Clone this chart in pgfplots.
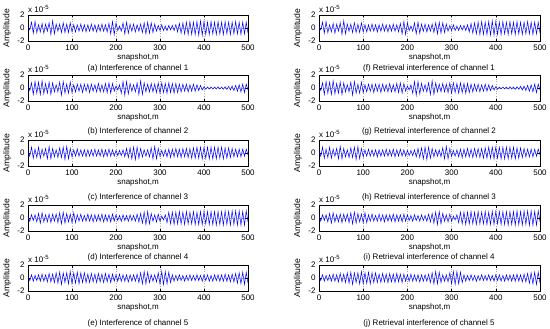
\documentclass[border=0pt]{standalone}
\usepackage{fontspec}
\setmainfont{Liberation Sans}
\usepackage{pgfplots}
\pgfplotsset{compat=1.18}
\usepackage{pgfplotstable}

\pgfplotstableread[row sep=\\]{x y\\
0 0.2\\ 4 -0.3\\ 8 0.9\\ 12 -0.8\\ 16 1.0\\ 20 -0.7\\ 24 0.5\\ 28 -0.6\\ 32 0.7\\ 36 -0.8\\
40 0.6\\ 44 -0.5\\ 48 0.8\\ 52 -1.0\\ 56 1.1\\ 60 -0.9\\ 64 0.6\\ 68 -0.5\\ 72 0.6\\ 76 -0.7\\
80 0.8\\ 84 -0.7\\ 88 0.6\\ 92 -0.7\\ 96 0.8\\ 100 -0.6\\ 104 0.5\\ 108 -0.6\\ 112 0.5\\ 116 -0.5\\
120 0.6\\ 124 -0.5\\ 128 0.5\\ 132 -0.6\\ 136 0.5\\ 140 -0.5\\ 144 0.6\\ 148 -0.5\\ 152 0.5\\ 156 -0.6\\
160 0.5\\ 164 -0.5\\ 168 0.6\\ 172 -0.5\\ 176 0.5\\ 180 -0.6\\ 184 0.7\\ 188 -0.9\\ 192 1.0\\ 196 -1.0\\
200 0.8\\ 204 -0.4\\ 208 0.3\\ 212 -0.5\\ 216 0.8\\ 220 -0.9\\ 224 0.9\\ 228 -0.8\\ 232 0.6\\ 236 -0.5\\
240 0.6\\ 244 -0.6\\ 248 0.5\\ 252 -0.5\\ 256 0.6\\ 260 -0.7\\ 264 0.8\\ 268 -0.9\\ 272 0.9\\ 276 -0.8\\
280 0.8\\ 284 -0.7\\ 288 0.6\\ 292 -0.5\\ 296 0.4\\ 300 -0.4\\ 304 0.5\\ 308 -0.4\\ 312 0.3\\ 316 -0.4\\
320 0.4\\ 324 -0.3\\ 328 0.4\\ 332 -0.4\\ 336 0.5\\ 340 -0.6\\ 344 0.7\\ 348 -0.8\\ 352 0.8\\ 356 -0.9\\
360 0.9\\ 364 -1.0\\ 368 1.0\\ 372 -1.0\\ 376 0.9\\ 380 -1.0\\ 384 1.0\\ 388 -1.1\\ 392 1.1\\ 396 -1.1\\
400 1.0\\ 404 -1.0\\ 408 0.9\\ 412 -1.0\\ 416 1.0\\ 420 -0.9\\ 424 0.9\\ 428 -1.0\\ 432 1.0\\ 436 -0.9\\
440 0.9\\ 444 -1.0\\ 448 1.0\\ 452 -0.9\\ 456 0.9\\ 460 -1.0\\ 464 0.9\\ 468 -0.9\\ 472 1.0\\ 476 -0.9\\
480 0.9\\ 484 -1.0\\ 488 0.9\\ 492 -0.9\\ 496 0.9\\ 500 -0.8\\
}\chA

\pgfplotstableread[row sep=\\]{x y\\
0 0.3\\ 4 -0.4\\ 8 0.8\\ 12 -1.0\\ 16 1.0\\ 20 -0.8\\ 24 0.9\\ 28 -1.0\\ 32 1.1\\ 36 -0.9\\
40 0.7\\ 44 -0.8\\ 48 0.9\\ 52 -1.0\\ 56 0.8\\ 60 -0.6\\ 64 0.5\\ 68 -0.6\\ 72 0.9\\ 76 -1.1\\
80 1.0\\ 84 -0.8\\ 88 0.6\\ 92 -0.8\\ 96 0.9\\ 100 -0.7\\ 104 0.5\\ 108 -0.6\\ 112 0.6\\ 116 -0.5\\
120 0.6\\ 124 -0.7\\ 128 0.6\\ 132 -0.5\\ 136 0.6\\ 140 -0.7\\ 144 0.6\\ 148 -0.5\\ 152 0.5\\ 156 -0.6\\
160 0.7\\ 164 -0.6\\ 168 0.5\\ 172 -0.6\\ 176 0.7\\ 180 -0.7\\ 184 0.8\\ 188 -0.8\\ 192 0.7\\ 196 -0.5\\
200 0.3\\ 204 -0.3\\ 208 0.5\\ 212 -0.8\\ 216 1.0\\ 220 -1.1\\ 224 1.0\\ 228 -0.9\\ 232 0.7\\ 236 -0.5\\
240 0.5\\ 244 -0.6\\ 248 0.8\\ 252 -1.0\\ 256 1.1\\ 260 -1.0\\ 264 0.8\\ 268 -0.6\\ 272 0.6\\ 276 -0.6\\
280 0.7\\ 284 -0.6\\ 288 0.6\\ 292 -0.7\\ 296 0.8\\ 300 -0.8\\ 304 0.8\\ 308 -0.7\\ 312 0.7\\ 316 -0.8\\
320 0.8\\ 324 -0.7\\ 328 0.7\\ 332 -0.8\\ 336 0.7\\ 340 -0.7\\ 344 0.6\\ 348 -0.6\\ 352 0.6\\ 356 -0.5\\
360 0.6\\ 364 -0.6\\ 368 0.5\\ 372 -0.5\\ 376 0.6\\ 380 -0.5\\ 384 0.5\\ 388 -0.4\\ 392 0.4\\ 396 -0.3\\
400 0.2\\ 404 -0.2\\ 408 0.15\\ 412 -0.15\\ 416 0.15\\ 420 -0.15\\ 424 0.15\\ 428 -0.15\\ 432 0.2\\ 436 -0.15\\
440 0.15\\ 444 -0.2\\ 448 0.2\\ 452 -0.2\\ 456 0.25\\ 460 -0.3\\ 464 0.3\\ 468 -0.4\\ 472 0.4\\ 476 -0.5\\
480 0.5\\ 484 -0.6\\ 488 0.6\\ 492 -0.7\\ 496 0.6\\ 500 -0.3\\
}\chB

\pgfplotstableread[row sep=\\]{x y\\
0 0.2\\ 4 -0.5\\ 8 0.9\\ 12 -0.8\\ 16 0.6\\ 20 -0.7\\ 24 0.9\\ 28 -0.8\\ 32 0.6\\ 36 -0.5\\
40 0.7\\ 44 -0.9\\ 48 1.0\\ 52 -0.9\\ 56 0.7\\ 60 -0.6\\ 64 0.5\\ 68 -0.7\\ 72 0.8\\ 76 -0.7\\
80 0.9\\ 84 -1.0\\ 88 1.0\\ 92 -0.9\\ 96 0.7\\ 100 -0.6\\ 104 0.5\\ 108 -0.5\\ 112 0.6\\ 116 -0.5\\
120 0.5\\ 124 -0.5\\ 128 0.5\\ 132 -0.6\\ 136 0.5\\ 140 -0.5\\ 144 0.5\\ 148 -0.5\\ 152 0.6\\ 156 -0.5\\
160 0.5\\ 164 -0.5\\ 168 0.6\\ 172 -0.6\\ 176 0.5\\ 180 -0.5\\ 184 0.6\\ 188 -0.5\\ 192 0.5\\ 196 -0.5\\
200 0.4\\ 204 -0.4\\ 208 0.4\\ 212 -0.4\\ 216 0.5\\ 220 -0.6\\ 224 0.7\\ 228 -0.7\\ 232 0.8\\ 236 -0.9\\
240 0.9\\ 244 -1.0\\ 248 0.9\\ 252 -0.8\\ 256 0.7\\ 260 -0.6\\ 264 0.5\\ 268 -0.5\\ 272 0.5\\ 276 -0.6\\
280 0.8\\ 284 -0.9\\ 288 1.0\\ 292 -0.9\\ 296 0.7\\ 300 -0.5\\ 304 0.4\\ 308 -0.5\\ 312 0.5\\ 316 -0.6\\
320 0.6\\ 324 -0.7\\ 328 0.6\\ 332 -0.6\\ 336 0.7\\ 340 -0.6\\ 344 0.6\\ 348 -0.7\\ 352 0.7\\ 356 -0.6\\
360 0.7\\ 364 -0.7\\ 368 0.7\\ 372 -0.8\\ 376 0.8\\ 380 -0.8\\ 384 0.9\\ 388 -0.8\\ 392 0.9\\ 396 -0.9\\
400 0.9\\ 404 -0.8\\ 408 0.9\\ 412 -0.9\\ 416 0.9\\ 420 -0.9\\ 424 0.9\\ 428 -0.9\\ 432 0.9\\ 436 -0.8\\
440 0.9\\ 444 -0.9\\ 448 0.8\\ 452 -0.8\\ 456 0.8\\ 460 -0.7\\ 464 0.7\\ 468 -0.6\\ 472 0.6\\ 476 -0.6\\
480 0.6\\ 484 -0.6\\ 488 0.6\\ 492 -0.5\\ 496 0.6\\ 500 -0.3\\
}\chC

\pgfplotstableread[row sep=\\]{x y\\
0 0.3\\ 4 -0.5\\ 8 0.5\\ 12 -0.4\\ 16 0.5\\ 20 -0.6\\ 24 0.7\\ 28 -0.8\\ 32 0.8\\ 36 -0.6\\
40 0.5\\ 44 -0.6\\ 48 0.6\\ 52 -0.7\\ 56 0.6\\ 60 -0.5\\ 64 0.6\\ 68 -0.7\\ 72 0.8\\ 76 -0.9\\
80 0.9\\ 84 -0.8\\ 88 0.7\\ 92 -0.6\\ 96 0.6\\ 100 -0.7\\ 104 0.8\\ 108 -0.7\\ 112 0.5\\ 116 -0.5\\
120 0.6\\ 124 -0.5\\ 128 0.4\\ 132 -0.5\\ 136 0.6\\ 140 -0.5\\ 144 0.5\\ 148 -0.6\\ 152 0.5\\ 156 -0.5\\
160 0.5\\ 164 -0.5\\ 168 0.6\\ 172 -0.6\\ 176 0.5\\ 180 -0.5\\ 184 0.5\\ 188 -0.6\\ 192 0.6\\ 196 -0.5\\
200 0.5\\ 204 -0.4\\ 208 0.4\\ 212 -0.5\\ 216 0.5\\ 220 -0.4\\ 224 0.4\\ 228 -0.5\\ 232 0.5\\ 236 -0.4\\
240 0.4\\ 244 -0.5\\ 248 0.6\\ 252 -0.6\\ 256 0.7\\ 260 -0.8\\ 264 0.9\\ 268 -1.0\\ 272 1.0\\ 276 -0.9\\
280 0.7\\ 284 -0.5\\ 288 0.5\\ 292 -0.6\\ 296 0.6\\ 300 -0.5\\ 304 0.3\\ 308 -0.3\\ 312 0.5\\ 316 -0.7\\
320 0.9\\ 324 -0.9\\ 328 0.9\\ 332 -1.0\\ 336 0.9\\ 340 -0.9\\ 344 1.0\\ 348 -0.9\\ 352 0.9\\ 356 -1.0\\
360 1.0\\ 364 -0.9\\ 368 0.9\\ 372 -0.9\\ 376 1.0\\ 380 -1.0\\ 384 0.9\\ 388 -1.0\\ 392 1.0\\ 396 -1.0\\
400 1.0\\ 404 -0.9\\ 408 1.0\\ 412 -1.0\\ 416 1.0\\ 420 -1.0\\ 424 1.0\\ 428 -1.1\\ 432 1.0\\ 436 -1.0\\
440 1.0\\ 444 -1.1\\ 448 1.1\\ 452 -1.0\\ 456 1.0\\ 460 -1.1\\ 464 1.1\\ 468 -1.0\\ 472 1.1\\ 476 -1.1\\
480 1.1\\ 484 -1.1\\ 488 1.0\\ 492 -1.1\\ 496 1.1\\ 500 -0.6\\
}\chD

\pgfplotstableread[row sep=\\]{x y\\
0 0.2\\ 4 -0.4\\ 8 0.5\\ 12 -0.5\\ 16 0.4\\ 20 -0.4\\ 24 0.5\\ 28 -0.5\\ 32 0.6\\ 36 -0.5\\
40 0.5\\ 44 -0.6\\ 48 0.7\\ 52 -0.6\\ 56 0.6\\ 60 -0.7\\ 64 0.8\\ 68 -0.8\\ 72 0.9\\ 76 -1.0\\
80 0.8\\ 84 -0.7\\ 88 0.8\\ 92 -0.9\\ 96 1.0\\ 100 -0.9\\ 104 0.8\\ 108 -0.8\\ 112 0.9\\ 116 -0.9\\
120 0.8\\ 124 -0.7\\ 128 0.8\\ 132 -0.7\\ 136 0.6\\ 140 -0.7\\ 144 0.7\\ 148 -0.6\\ 152 0.6\\ 156 -0.7\\
160 0.7\\ 164 -0.6\\ 168 0.6\\ 172 -0.7\\ 176 0.7\\ 180 -0.6\\ 184 0.6\\ 188 -0.7\\ 192 0.6\\ 196 -0.5\\
200 0.5\\ 204 -0.5\\ 208 0.6\\ 212 -0.5\\ 216 0.5\\ 220 -0.5\\ 224 0.5\\ 228 -0.6\\ 232 0.5\\ 236 -0.5\\
240 0.5\\ 244 -0.5\\ 248 0.6\\ 252 -0.7\\ 256 0.8\\ 260 -0.9\\ 264 1.0\\ 268 -0.9\\ 272 0.9\\ 276 -0.7\\
280 0.5\\ 284 -0.5\\ 288 0.5\\ 292 -0.6\\ 296 0.8\\ 300 -0.9\\ 304 1.0\\ 308 -1.0\\ 312 1.0\\ 316 -0.9\\
320 0.9\\ 324 -0.7\\ 328 0.5\\ 332 -0.5\\ 336 0.4\\ 340 -0.4\\ 344 0.5\\ 348 -0.4\\ 352 0.4\\ 356 -0.5\\
360 0.4\\ 364 -0.4\\ 368 0.5\\ 372 -0.4\\ 376 0.4\\ 380 -0.4\\ 384 0.5\\ 388 -0.4\\ 392 0.4\\ 396 -0.5\\
400 0.5\\ 404 -0.4\\ 408 0.5\\ 412 -0.5\\ 416 0.4\\ 420 -0.5\\ 424 0.5\\ 428 -0.4\\ 432 0.5\\ 436 -0.5\\
440 0.5\\ 444 -0.5\\ 448 0.6\\ 452 -0.5\\ 456 0.5\\ 460 -0.6\\ 464 0.6\\ 468 -0.6\\ 472 0.7\\ 476 -0.8\\
480 0.8\\ 484 -0.9\\ 488 0.9\\ 492 -1.0\\ 496 0.9\\ 500 -0.8\\
}\chE

\newcommand{\capfont}{\fontsize{8}{9.5}\selectfont}
\pgfplotsset{
  sub/.style={
    scale only axis, height=26pt,
    xmin=0, xmax=500, ymin=-2, ymax=2,
    xtick={0,100,200,300,400,500}, ytick={-2,0,2},
    tick align=inside, major tick length=2.5pt,
    xmajorgrids, ymajorgrids,
    grid style={dotted, black!35, line width=0.4pt},
    axis line style={line width=0.5pt},
    tick style={black, line width=0.5pt},
    ticklabel style={font=\capfont},
    xlabel style={font=\capfont},
    ylabel style={font=\fontsize{8.6}{10}\selectfont},
    /pgf/number format/assume math mode=true,
    xlabel={snapshot,m}, ylabel={Amplitude},
    xlabel style={at={(axis description cs:0.5,0)}, anchor=center, yshift=-16pt},
    ylabel style={at={(axis description cs:-0.095,0.5)}, anchor=center},
    anchor=north west,
    clip mode=individual,
  },
  sig/.style={blue, line width=0.5pt},
}
\newcommand{\sclabel}{\node[anchor=base west, inner sep=0pt, font=\capfont] at (rel axis cs:0,1) [yshift=2.5pt] {x 10\textsuperscript{-5}};}

\begin{document}
\begin{tikzpicture}
\useasboundingbox (0,0) rectangle (550pt,-329pt);
% left column
\begin{axis}[sub, width=220pt, at={(28pt,-15pt)}]
\addplot[sig] table[x=x,y=y] {\chA}; \sclabel
\end{axis}
\begin{axis}[sub, width=220pt, at={(28pt,-75pt)}]
\addplot[sig] table[x=x,y=y] {\chB}; \sclabel
\end{axis}
\begin{axis}[sub, width=220pt, at={(28pt,-140pt)}]
\addplot[sig] table[x=x,y=y] {\chC}; \sclabel
\end{axis}
\begin{axis}[sub, width=220pt, at={(28pt,-205pt)}]
\addplot[sig] table[x=x,y=y] {\chD}; \sclabel
\end{axis}
\begin{axis}[sub, width=220pt, at={(28pt,-265pt)}]
\addplot[sig] table[x=x,y=y] {\chE}; \sclabel
\end{axis}
% right column
\begin{axis}[sub, width=221pt, at={(319pt,-15pt)}]
\addplot[sig] table[x=x,y=y] {\chA}; \sclabel
\end{axis}
\begin{axis}[sub, width=221pt, at={(319pt,-75pt)}]
\addplot[sig] table[x=x,y=y] {\chB}; \sclabel
\end{axis}
\begin{axis}[sub, width=221pt, at={(319pt,-140pt)}]
\addplot[sig] table[x=x,y=y] {\chC}; \sclabel
\end{axis}
\begin{axis}[sub, width=221pt, at={(319pt,-205pt)}]
\addplot[sig] table[x=x,y=y] {\chD}; \sclabel
\end{axis}
\begin{axis}[sub, width=221pt, at={(319pt,-265pt)}]
\addplot[sig] table[x=x,y=y] {\chE}; \sclabel
\end{axis}
% captions
\node[font=\capfont] at (138pt,-68pt) {(a) Interference of channel 1};
\node[font=\capfont] at (138pt,-131pt) {(b) Interference of channel 2};
\node[font=\capfont] at (138pt,-197pt) {(c) Interference of channel 3};
\node[font=\capfont] at (138pt,-257pt) {(d) Interference of channel 4};
\node[font=\capfont] at (138pt,-323pt) {(e) Interference of channel 5};
\node[font=\capfont] at (429pt,-68pt) {(f) Retrieval interference of channel 1};
\node[font=\capfont] at (429pt,-131pt) {(g) Retrieval interference of channel 2};
\node[font=\capfont] at (429pt,-197pt) {(h) Retrieval interference of channel 3};
\node[font=\capfont] at (429pt,-257pt) {(i) Retrieval interference of channel 4};
\node[font=\capfont] at (429pt,-323pt) {(j) Retrieval interference of channel 5};
\end{tikzpicture}
\end{document}
